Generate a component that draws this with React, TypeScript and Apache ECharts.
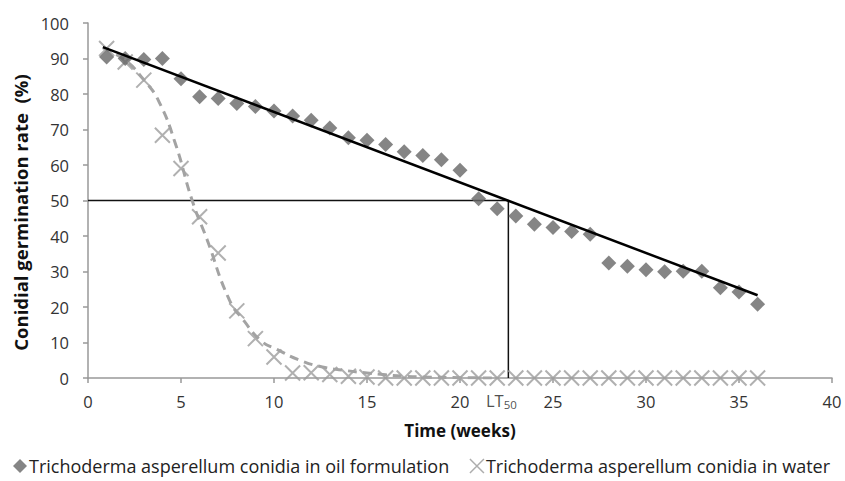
import React, { useEffect, useRef } from "react";
import * as echarts from "echarts";

const weeks = [1,2,3,4,5,6,7,8,9,10,11,12,13,14,15,16,17,18,19,20,21,22,23,24,25,26,27,28,29,30,31,32,33,34,35,36];
const oilValues = [90.4,90.0,89.7,90.0,84.3,79.2,78.7,77.3,76.5,75.2,73.8,72.6,70.4,67.7,67.0,65.8,63.7,62.7,61.5,58.5,50.5,47.7,45.6,43.3,42.4,41.3,40.5,32.4,31.5,30.5,29.9,30.1,30.1,25.4,24.2,20.8];
const waterValues = [92.8,89.0,83.9,68.4,59.0,45.4,35.2,18.9,11.1,5.9,1.4,1.5,1.0,0.5,0.3,0,0,0,0,0,0,0,0,0,0,0,0,0,0,0,0,0,0,0,0,0];
// fitted curves
const oilTrend: [number, number][] = [[0.8, 93.2], [36, 23.3]];
const waterTrend: [number, number][] = [[0.8,93],[2,89.5],[3,84],[3.8,78],[4.7,66],[5.6,50],[6.4,39],[7.6,22],[8.4,16],[9.3,10.5],[10.1,8.2],[11.4,5],[12.6,3.1],[13.7,2.2],[15,1.4],[16,0.9],[17,0.5],[18,0.3],[20,0.1],[22,0]];
const lt50 = 22.6;
const xTicks = { min: 0, max: 40, interval: 5 };
const yTicks = { min: 0, max: 100, interval: 10 };

const legendOil = "Trichoderma asperellum conidia in oil formulation";
const legendWater = "Trichoderma asperellum conidia in water";

const xSymbol = "path://M0,0L10,10M10,0L0,10";

export default function App() {
  const ref = useRef<HTMLDivElement>(null);
  useEffect(() => {
    if (!ref.current) return;
    const chart = echarts.init(ref.current, null, { renderer: "svg" });
    const font = "'Open Sans', sans-serif";
    chart.setOption({
      animation: false,
      backgroundColor: "#fff",
      grid: { left: 88, right: 13, top: 23, bottom: 103 },
      legend: {
        bottom: 1,
        left: 8,
        itemGap: 20,
        itemWidth: 14,
        itemHeight: 14,
        textStyle: { fontFamily: font, fontSize: 18, color: "#222", padding: [0, 0, 0, -3] },
        data: [
          { name: legendOil, icon: "diamond", itemStyle: { color: "#666", borderWidth: 0 } },
          { name: legendWater, icon: xSymbol, itemStyle: { color: "transparent", borderColor: "#999", borderWidth: 1.5 } },
        ],
      },
      xAxis: {
        type: "value",
        ...xTicks,
        name: "Time (weeks)",
        nameLocation: "middle",
        nameGap: 44,
        nameTextStyle: { fontFamily: font, fontSize: 17, fontWeight: "bold", color: "#111" },
        axisLine: { lineStyle: { color: "#999", width: 1.5 } },
        axisTick: { show: true, inside: false, length: 5, lineStyle: { color: "#999", width: 1.5 } },
        axisLabel: { margin: 15, fontFamily: font, fontSize: 16.5, color: "#333" },
        splitLine: { show: false },
      },
      yAxis: {
        type: "value",
        ...yTicks,
        name: "Conidial germination rate  (%)",
        nameLocation: "middle",
        nameGap: 53,
        nameTextStyle: { fontFamily: font, fontSize: 18.5, fontWeight: "bold", color: "#111", padding: [0, 24, 0, 0] },
        axisLine: { show: true, lineStyle: { color: "#999", width: 1.5 } },
        axisTick: { show: true, inside: false, length: 5, lineStyle: { color: "#999", width: 1.5 } },
        axisLabel: { margin: 19, fontFamily: font, fontSize: 16.5, color: "#333" },
        splitLine: { show: false },
      },
      series: [
        {
          name: "lt50lines",
          type: "line",
          data: [[0, 50], [lt50, 50], [lt50, 0]],
          symbol: "none",
          lineStyle: { color: "#111", width: 1.5 },
          z: 1,
          silent: true,
        },
        {
          name: legendWater,
          type: "scatter",
          data: weeks.map((w, i) => [w, waterValues[i]]),
          symbol: xSymbol,
          symbolSize: 15,
          itemStyle: { color: "transparent", borderColor: "#9c9c9c", borderWidth: 2 },
          z: 2,
        },
        {
          name: "waterTrend",
          type: "line",
          data: waterTrend,
          smooth: true,
          symbol: "none",
          lineStyle: { color: "#a3a3a3", width: 3, type: [9, 6] },
          z: 3,
          silent: true,
        },
        {
          name: legendOil,
          type: "scatter",
          data: weeks.map((w, i) => [w, oilValues[i]]),
          symbol: "diamond",
          symbolSize: 15,
          itemStyle: { color: "#666" },
          z: 4,
        },
        {
          name: "oilTrend",
          type: "line",
          data: oilTrend,
          symbol: "none",
          lineStyle: { color: "#000", width: 2.5 },
          z: 5,
          silent: true,
        },
        {
          name: "lt50label",
          type: "scatter",
          data: [[lt50, 0]],
          symbolSize: 0,
          silent: true,
          label: {
            show: true,
            position: "bottom",
            distance: 12,
            offset: [-7, 0],
            formatter: "{a|LT}{b|50}",
            rich: {
              a: { fontFamily: font, fontSize: 16.5, color: "#222" },
              b: { fontFamily: font, fontSize: 11.5, color: "#222", verticalAlign: "bottom", padding: [8, 0, 0, 0] },
            },
          },
        },
      ],
    });
    return () => chart.dispose();
  }, []);
  return <div ref={ref} style={{ width: 845, height: 481, position: "absolute", left: 0, top: 0 }} />;
}
